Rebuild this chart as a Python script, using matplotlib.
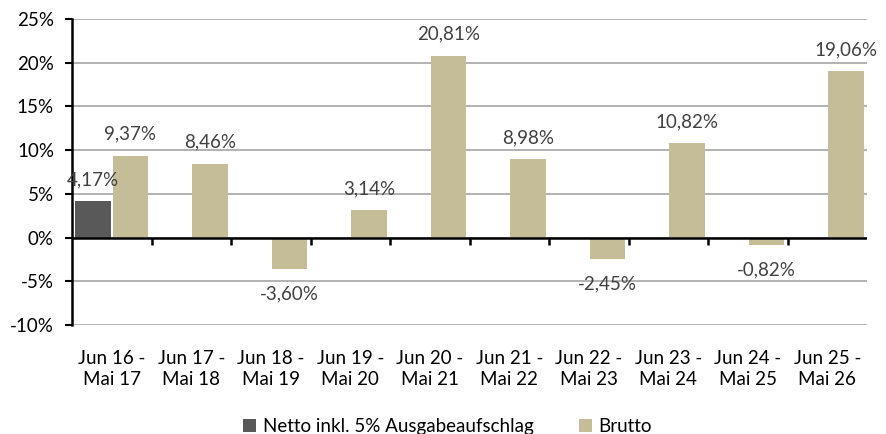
import numpy as np
import matplotlib.pyplot as plt
from matplotlib.ticker import FixedLocator, FuncFormatter

# data
periods = ["Jun 16 -\nMai 17", "Jun 17 -\nMai 18", "Jun 18 -\nMai 19", "Jun 19 -\nMai 20",
           "Jun 20 -\nMai 21", "Jun 21 -\nMai 22", "Jun 22 -\nMai 23", "Jun 23 -\nMai 24",
           "Jun 24 -\nMai 25", "Jun 25 -\nMai 26"]
netto = [4.17, np.nan, np.nan, np.nan, np.nan, np.nan, np.nan, np.nan, np.nan, np.nan]
brutto = [9.37, 8.46, -3.60, 3.14, 20.81, 8.98, -2.45, 10.82, -0.82, 19.06]

plt.rcParams['font.family'] = ['Lato', 'DejaVu Sans']

fig = plt.figure(figsize=(8.86, 4.34), dpi=100)
ax = fig.add_axes([0.0813, 0.2512, 0.8973, 0.7048])

x = np.arange(len(periods))
w = 0.45
c_netto = '#595959'
c_brutto = '#C4BD97'

b1 = ax.bar(x - 0.235, netto, w, color=c_netto, label='Netto inkl. 5% Ausgabeaufschlag', zorder=3)
b2 = ax.bar(x + 0.235, brutto, w, color=c_brutto, label='Brutto', zorder=3)

def fmt(v):
    return f"{v:.2f}%".replace('.', ',')

for bars, vals in [(b1, netto), (b2, brutto)]:
    for r, v in zip(bars, vals):
        if np.isnan(v):
            continue
        off = 15.5 if v >= 0 else -18
        ax.annotate(fmt(v), (r.get_x() + r.get_width() / 2, v), xytext=(0, off),
                    textcoords='offset points', ha='center', va='center',
                    fontsize=13.5, color='#404040')

ax.set_xlim(-0.5, len(periods) - 0.5)
ax.set_ylim(-10, 25)
ax.set_yticks(np.arange(-10, 26, 5))
ax.yaxis.set_major_formatter(FuncFormatter(lambda v, p: f"{v:.0f}%"))
ax.tick_params(axis='y', labelsize=13.5, length=5, width=1.5, colors='black', pad=8)
ax.grid(axis='y', color='#a6a6a6', linewidth=1.2, zorder=0)

for s in ['top', 'right', 'bottom']:
    ax.spines[s].set_visible(False)
ax.spines['left'].set_linewidth(1.8)

ax.set_xticks(x)
ax.set_xticklabels(periods, fontsize=13.5, linespacing=1.3)
ax.tick_params(axis='x', length=0, pad=18)

# zero line with category separators
ax.axhline(0, color='black', linewidth=1.8, zorder=4)
sec = ax.secondary_xaxis(10 / 35)
sec.spines['bottom'].set_visible(False)
sec.set_xticks([])
sec.xaxis.set_minor_locator(FixedLocator(np.arange(0.5, len(periods) - 1, 1)))
sec.tick_params(which='minor', length=5, width=1.8, direction='out')

fig.legend(handles=[b1, b2], loc='center', bbox_to_anchor=(0.505, 0.018), ncol=2,
           frameon=False, fontsize=13.5, handlelength=0.7, handleheight=0.7,
           handletextpad=0.35, columnspacing=2.4)

fig.savefig('out.png', dpi=100)
